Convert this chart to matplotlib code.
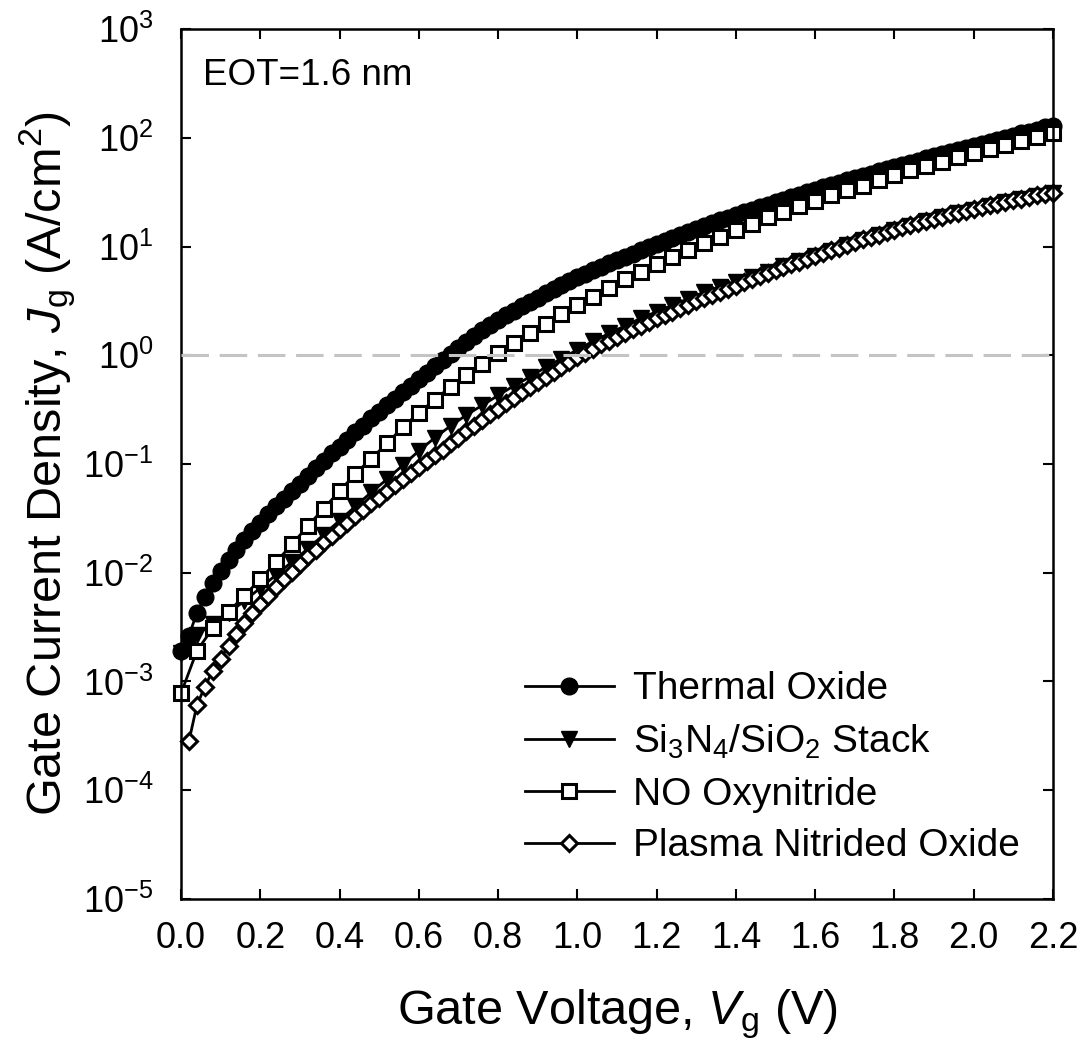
import numpy as np
import matplotlib
matplotlib.use("Agg")
import matplotlib.pyplot as plt
from matplotlib.ticker import FixedLocator, NullLocator, FormatStrFormatter

plt.rcParams['font.family'] = ['Liberation Sans', 'DejaVu Sans']
plt.rcParams['mathtext.fontset'] = 'custom'
plt.rcParams['mathtext.rm'] = 'Liberation Sans'
plt.rcParams['mathtext.it'] = 'Liberation Sans:italic'
plt.rcParams['mathtext.bf'] = 'Liberation Sans:bold'

# gate voltage sweeps (V)
v_fine = np.linspace(0.0, 2.2, 111)      # 0.02 V step
v_coarse = np.linspace(0.0, 2.2, 56)     # 0.04 V step
v_plasma = np.linspace(0.02, 2.2, 110)   # 0.02 V step, starts at 0.02

# log10 of gate current density (A/cm^2)
thermal_log_jg = [
    -2.72, -2.58, -2.37, -2.22, -2.09, -1.98, -1.88, -1.79, -1.70, -1.62, -1.54,
    -1.46, -1.39, -1.32, -1.25, -1.18, -1.11, -1.04, -0.97, -0.90, -0.84,
    -0.775, -0.71, -0.65, -0.58, -0.52, -0.46, -0.40, -0.34, -0.28, -0.22,
    -0.16, -0.10, -0.045, 0.01, 0.07, 0.12, 0.18, 0.23, 0.28, 0.325,
    0.37, 0.41, 0.45, 0.49, 0.53, 0.57, 0.61, 0.645, 0.68, 0.715,
    0.75, 0.78, 0.81, 0.845, 0.875, 0.905, 0.935, 0.965, 0.995, 1.025,
    1.055, 1.08, 1.11, 1.135, 1.16, 1.19, 1.215, 1.24, 1.265, 1.29,
    1.315, 1.34, 1.36, 1.385, 1.41, 1.43, 1.455, 1.475, 1.50, 1.52,
    1.545, 1.565, 1.585, 1.61, 1.63, 1.65, 1.67, 1.69, 1.71, 1.73,
    1.75, 1.77, 1.79, 1.81, 1.83, 1.85, 1.87, 1.89, 1.905, 1.925,
    1.945, 1.965, 1.98, 2.00, 2.02, 2.04, 2.055, 2.075, 2.095, 2.11,
]
stack_log_jg = [
    -2.74, -2.57, -2.47, -2.37, -2.26, -2.14, -2.02, -1.90, -1.78, -1.65,
    -1.52, -1.39, -1.26, -1.14, -1.01, -0.88, -0.76, -0.65, -0.55, -0.46,
    -0.37, -0.28, -0.20, -0.11, -0.03, 0.05, 0.13, 0.20, 0.27, 0.34,
    0.40, 0.46, 0.52, 0.58, 0.63, 0.67, 0.72, 0.77, 0.82, 0.865,
    0.91, 0.96, 1.01, 1.06, 1.105, 1.15, 1.19, 1.23, 1.27, 1.305,
    1.34, 1.375, 1.405, 1.435, 1.465, 1.49,
]
no_log_jg = [
    -3.11, -2.72, -2.51, -2.36, -2.21, -2.06, -1.90, -1.74, -1.57, -1.41,
    -1.25, -1.09, -0.95, -0.81, -0.66, -0.53, -0.41, -0.29, -0.18, -0.08,
    0.02, 0.11, 0.20, 0.29, 0.38, 0.46, 0.54, 0.62, 0.70, 0.77,
    0.84, 0.90, 0.97, 1.03, 1.09, 1.15, 1.21, 1.27, 1.32, 1.37,
    1.42, 1.47, 1.52, 1.56, 1.61, 1.66, 1.70, 1.74, 1.78, 1.82,
    1.86, 1.90, 1.93, 1.97, 2.01, 2.04,
]
plasma_log_jg = [
    -3.55, -3.22, -3.05, -2.90, -2.79, -2.67, -2.56, -2.46, -2.37, -2.29,
    -2.21, -2.13, -2.06, -1.99, -1.92, -1.85, -1.79, -1.72, -1.66, -1.60,
    -1.54, -1.48, -1.42, -1.36, -1.31, -1.25, -1.19, -1.14, -1.08, -1.03,
    -0.97, -0.92, -0.87, -0.81, -0.76, -0.70, -0.65, -0.60, -0.54, -0.49,
    -0.44, -0.39, -0.34, -0.29, -0.245, -0.20, -0.155, -0.11, -0.065, -0.02,
    0.02, 0.06, 0.10, 0.135, 0.17, 0.205, 0.24, 0.27, 0.305, 0.34,
    0.37, 0.40, 0.435, 0.465, 0.495, 0.525, 0.555, 0.585, 0.61, 0.64,
    0.67, 0.70, 0.725, 0.755, 0.78, 0.81, 0.835, 0.86, 0.885, 0.91,
    0.94, 0.965, 0.99, 1.015, 1.04, 1.065, 1.09, 1.11, 1.13, 1.155,
    1.175, 1.195, 1.215, 1.235, 1.255, 1.275, 1.295, 1.31, 1.33, 1.345,
    1.36, 1.38, 1.395, 1.41, 1.425, 1.44, 1.455, 1.47, 1.48, 1.495,
]

labels = ['Thermal Oxide', 'Si$_3$N$_4$/SiO$_2$ Stack',
          'NO Oxynitride', 'Plasma Nitrided Oxide']
x_ticks = [0.0, 0.2, 0.4, 0.6, 0.8, 1.0, 1.2, 1.4, 1.6, 1.8, 2.0, 2.2]
y_ticks = [1e-5, 1e-4, 1e-3, 1e-2, 1e-1, 1e0, 1e1, 1e2, 1e3]

fig = plt.figure(figsize=(10.87, 10.55), dpi=100)
ax = fig.add_axes([0.1665, 0.1479, 0.8022, 0.8246])

ax.plot(v_fine, 10 ** np.array(thermal_log_jg), '-o', color='k', lw=2,
        ms=12, mfc='k', mec='k', mew=1.0, label=labels[0], clip_on=False)
ax.plot(v_coarse, 10 ** np.array(stack_log_jg), '-v', color='k', lw=2,
        ms=12, mfc='k', mec='k', mew=1.0, label=labels[1], clip_on=False)
ax.plot(v_coarse, 10 ** np.array(no_log_jg), '-s', color='k', lw=2,
        ms=10.5, mfc='white', mec='k', mew=2.2, label=labels[2], clip_on=False)
ax.plot(v_plasma, 10 ** np.array(plasma_log_jg), '-D', color='k', lw=2,
        ms=8.5, mfc='white', mec='k', mew=2.2, label=labels[3], clip_on=False)

ax.axhline(1.0, color='#c4c4c4', lw=2.2, dashes=(9, 3.5), zorder=5)

ax.set_yscale('log')
ax.set_xlim(0.0, 2.2)
ax.set_ylim(1e-5, 1e3)
ax.xaxis.set_major_locator(FixedLocator(x_ticks))
ax.xaxis.set_major_formatter(FormatStrFormatter('%.1f'))
ax.yaxis.set_major_locator(FixedLocator(y_ticks))
ax.yaxis.set_minor_locator(NullLocator())
ax.tick_params(which='major', direction='in', top=True, right=True,
               length=7, width=1.5, labelsize=26)
ax.tick_params(axis='x', pad=16)
ax.tick_params(axis='y', pad=20)
for sp in ax.spines.values():
    sp.set_linewidth(1.8)

ax.set_xlabel('Gate Voltage, $V_\\mathrm{g}$ (V)', fontsize=35, labelpad=22)
ax.set_ylabel('Gate Current Density, $J_\\mathrm{g}$ (A/cm$^\\mathrm{2}$)',
              fontsize=35, labelpad=3)

ax.text(0.025, 0.936, 'EOT=1.6 nm', transform=ax.transAxes, fontsize=26.5,
        va='baseline', ha='left')

ax.legend(loc='lower left', bbox_to_anchor=(0.394, 0.04), frameon=False,
          fontsize=28, numpoints=1, handlelength=2.3, handletextpad=0.5,
          labelspacing=0.4, borderpad=0, borderaxespad=0)

fig.savefig('out.png', dpi=100)
